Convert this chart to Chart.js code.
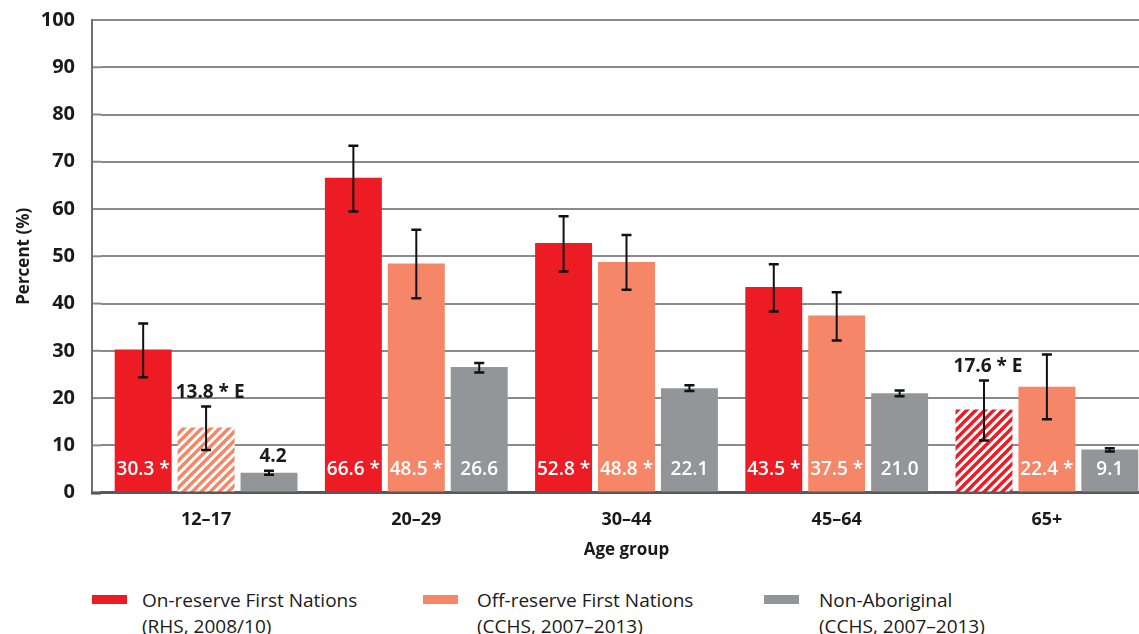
<!DOCTYPE html>
<html>
<head>
<meta charset="utf-8">
<script src="https://cdn.jsdelivr.net/npm/chart.js@4.4.1/dist/chart.umd.min.js"></script>
<style>
  html, body { margin: 0; padding: 0; background: #fff; overflow: hidden; }
  #wrap { position: absolute; left: 0; top: -18px; width: 1160px; height: 594px; }
  .legend { position: absolute; top: 587px; font-family: 'Liberation Sans Narrow', 'Open Sans', sans-serif; font-size: 19px; color: #1a1a1a; line-height: 26px; }
  .legend .box { position: absolute; left: 0; top: 8px; width: 35px; height: 9px; }
  .legend .txt { position: absolute; white-space: nowrap; }
</style>
</head>
<body>
<div id="wrap"><canvas id="chart"></canvas></div>

<div class="legend" style="left:92px"><div class="box" style="background:#ed1c24"></div><div class="txt" style="left:50px">On-reserve First Nations<br>(RHS, 2008/10)</div></div>
<div class="legend" style="left:423px"><div class="box" style="background:#f58667"></div><div class="txt" style="left:54px">Off-reserve First Nations<br>(CCHS, 2007–2013)</div></div>
<div class="legend" style="left:764px"><div class="box" style="background:#939598"></div><div class="txt" style="left:55px">Non-Aboriginal<br>(CCHS, 2007–2013)</div></div>

<script>
const ageGroups = ['12–17', '20–29', '30–44', '45–64', '65+'];
const yTicks = [0, 10, 20, 30, 40, 50, 60, 70, 80, 90, 100];

const onReserve = [30.3, 66.6, 52.8, 43.5, 17.6];
const onReserveLow = [24.4, 59.5, 46.8, 38.3, 11.0];
const onReserveHigh = [35.8, 73.4, 58.5, 48.3, 23.7];
const onReserveStar = [true, true, true, true, true];
const onReserveE = [false, false, false, false, true];

const offReserve = [13.8, 48.5, 48.8, 37.5, 22.4];
const offReserveLow = [9.0, 41.1, 42.9, 32.2, 15.5];
const offReserveHigh = [18.2, 55.6, 54.5, 42.4, 29.2];
const offReserveStar = [true, true, true, true, true];
const offReserveE = [true, false, false, false, false];

const nonAboriginal = [4.2, 26.6, 22.1, 21.0, 9.1];
const nonAboriginalLow = [3.8, 25.4, 21.5, 20.4, 8.7];
const nonAboriginalHigh = [4.6, 27.4, 22.7, 21.6, 9.4];
const nonAboriginalStar = [false, false, false, false, false];
const nonAboriginalE = [false, false, false, false, false];

const RED = '#ed1c24';
const ORANGE = '#f58667';
const GREY = '#939598';

const ctx = document.getElementById('chart').getContext('2d');

function hatch(color) {
    const s = 9;
    const c = document.createElement('canvas');
    c.width = s; c.height = s;
    const g = c.getContext('2d');
    g.fillStyle = '#fff';
    g.fillRect(0, 0, s, s);
    g.strokeStyle = color;
    g.lineWidth = 3.4;
    g.beginPath();
    g.moveTo(-2, 2); g.lineTo(2, -2);
    g.moveTo(0, s); g.lineTo(s, 0);
    g.moveTo(s - 2, s + 2); g.lineTo(s + 2, s - 2);
    g.stroke();
    return ctx.createPattern(c, 'repeat');
}

const fills = (color, eFlags) => eFlags.map(e => e ? hatch(color) : color);

const errors = [
    { low: onReserveLow, high: onReserveHigh, star: onReserveStar, e: onReserveE },
    { low: offReserveLow, high: offReserveHigh, star: offReserveStar, e: offReserveE },
    { low: nonAboriginalLow, high: nonAboriginalHigh, star: nonAboriginalStar, e: nonAboriginalE }
];

const extrasPlugin = {
    id: 'extras',
    beforeDatasetsDraw(chart) {
        const c = chart.ctx;
        const y = chart.scales.y;
        const area = chart.chartArea;
        c.save();
        // grid extension to the y axis line
        c.strokeStyle = '#8a8a8a';
        c.lineWidth = 2;
        yTicks.forEach(t => {
            const py = y.getPixelForValue(t);
            c.beginPath();
            c.moveTo(92, py); c.lineTo(area.left, py);
            c.stroke();
        });
        c.strokeStyle = '#707072';
        c.lineWidth = 2;
        c.beginPath();
        c.moveTo(92, y.getPixelForValue(100) - 1);
        c.lineTo(92, y.getPixelForValue(0));
        c.stroke();
        c.restore();
    },
    afterDatasetsDraw(chart) {
        const c = chart.ctx;
        const y = chart.scales.y;
        const area = chart.chartArea;
        c.save();
        c.strokeStyle = '#58595b';
        c.lineWidth = 3;
        c.beginPath();
        c.moveTo(91, y.getPixelForValue(0) + 0.5);
        c.lineTo(area.left, y.getPixelForValue(0) + 0.5);
        c.stroke();

        chart.data.datasets.forEach((ds, i) => {
            const meta = chart.getDatasetMeta(i);
            const err = errors[i];
            meta.data.forEach((bar, j) => {
                const yLo = y.getPixelForValue(err.low[j]);
                const yHi = y.getPixelForValue(err.high[j]);
                c.strokeStyle = '#111';
                c.lineWidth = 2;
                c.beginPath();
                c.moveTo(bar.x, yHi); c.lineTo(bar.x, yLo);
                c.stroke();
                c.lineWidth = 2.5;
                c.beginPath();
                c.moveTo(bar.x - 5, yHi); c.lineTo(bar.x + 5, yHi);
                c.moveTo(bar.x - 5, yLo); c.lineTo(bar.x + 5, yLo);
                c.stroke();

                const v = ds.data[j];
                let label = v.toFixed(1) + (err.star[j] ? ' *' : '') + (err.e[j] ? ' E' : '');
                c.textAlign = 'center';
                c.textBaseline = 'alphabetic';
                if (err.e[j] || v < 8) {
                    c.font = '700 19px "Open Sans", sans-serif';
                    c.fillStyle = '#1a1a1a';
                    c.fillText(label, bar.x + 4, yHi - 9);
                } else {
                    c.font = '600 19px "Open Sans", sans-serif';
                    c.fillStyle = '#fff';
                    c.fillText(label, bar.x, y.getPixelForValue(0) - 18);
                }
            });
        });
        c.restore();
    }
};

new Chart(ctx, {
    type: 'bar',
    data: {
        labels: ageGroups,
        datasets: [
            { label: 'On-reserve First Nations', data: onReserve, backgroundColor: fills(RED, onReserveE) },
            { label: 'Off-reserve First Nations', data: offReserve, backgroundColor: fills(ORANGE, offReserveE) },
            { label: 'Non-Aboriginal', data: nonAboriginal, backgroundColor: fills(GREY, nonAboriginalE) }
        ]
    },
    options: {
        responsive: true,
        maintainAspectRatio: false,
        animation: false,
        categoryPercentage: 0.898,
        barPercentage: 0.905,
        layout: { padding: { top: 2, right: 8, bottom: 12, left: 0 } },
        plugins: {
            legend: { display: false },
            tooltip: { enabled: false }
        },
        scales: {
            x: {
                grid: { display: false, drawTicks: false },
                border: { display: true, color: '#58595b', width: 3 },
                ticks: {
                    color: '#1a1a1a',
                    padding: 18,
                    font: { family: '"Open Sans", sans-serif', size: 18, weight: '700', lineHeight: 1 }
                },
                title: {
                    display: true,
                    text: 'Age group',
                    color: '#1a1a1a',
                    padding: { top: -7, bottom: 4 },
                    font: { family: '"Open Sans", sans-serif', size: 17, weight: '700' }
                }
            },
            y: {
                min: 0,
                max: 100,
                afterFit(scale) { scale.width = 101; },
                afterBuildTicks(scale) { scale.ticks = yTicks.map(v => ({ value: v })); },
                grid: { color: '#8a8a8a', lineWidth: 2, drawTicks: false },
                border: { display: false },
                ticks: {
                    color: '#1a1a1a',
                    padding: 26,
                    font: { family: '"Open Sans", sans-serif', size: 20, weight: '700' }
                },
                title: {
                    display: true,
                    text: 'Percent (%)',
                    color: '#1a1a1a',
                    padding: { top: 14, bottom: 0 },
                    font: { family: '"Open Sans", sans-serif', size: 17, weight: '700' }
                }
            }
        }
    },
    plugins: [extrasPlugin]
});
</script>
</body>
</html>
